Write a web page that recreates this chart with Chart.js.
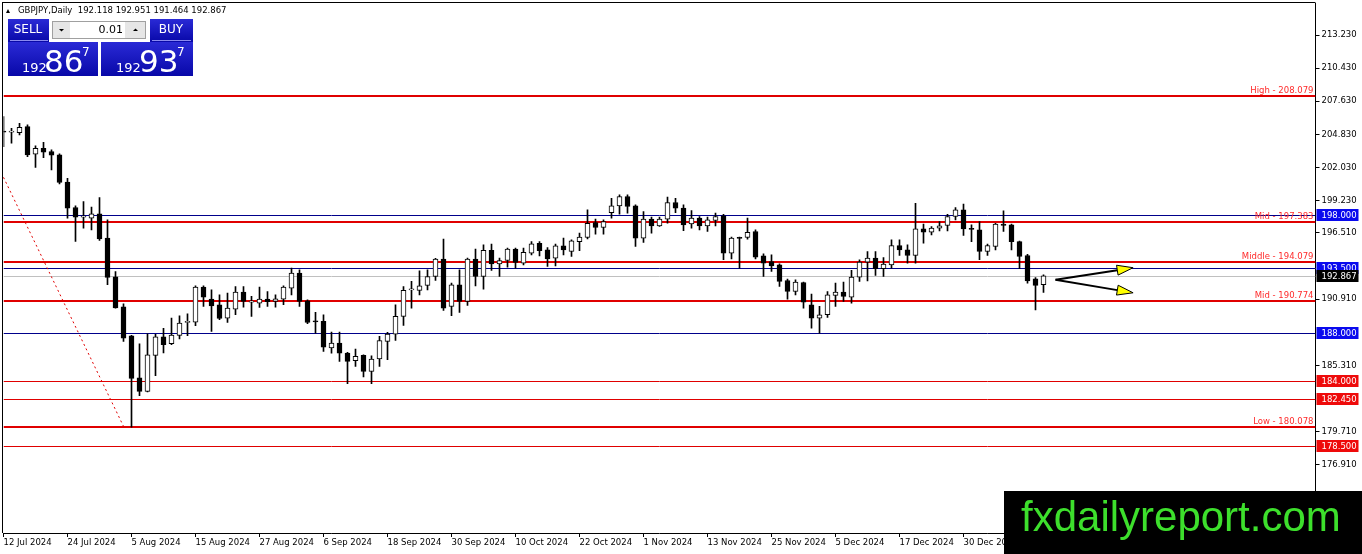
<!DOCTYPE html>
<html>
<head>
<meta charset="utf-8">
<title>GBPJPY Daily</title>
<script src="https://cdn.jsdelivr.net/npm/chart.js@4.4.1/dist/chart.umd.min.js"></script>
<style>
  html, body { margin: 0; padding: 0; background: #fff; }
  #wrap { width: 1362px; height: 554px; }
</style>
</head>
<body>
<div id="wrap"><canvas id="chart" width="1362" height="554"></canvas></div>
<script>
// GBPJPY daily candles, 12 Jul 2024 -> 14 Jan 2025
const opens = [
  205.10, 205.02, 204.98, 205.49, 203.15, 203.66, 203.38, 203.10, 200.79, 198.65,
  197.84, 197.75, 198.11, 196.06, 192.79, 190.25, 187.81, 184.26, 183.11, 186.15,
  187.72, 187.13, 187.84, 188.94, 188.96, 191.92, 190.90, 190.43, 189.30, 190.06,
  191.50, 190.65, 190.57, 190.90, 190.71, 190.90, 191.83, 193.10, 190.76, 189.02,
  189.02, 186.77, 187.19, 186.34, 185.70, 186.15, 184.79, 185.84, 187.33, 187.95,
  189.44, 191.68, 191.64, 192.06, 192.82, 194.28, 190.28, 192.12, 190.71, 194.28,
  192.82, 195.02, 193.89, 194.17, 195.13, 193.95, 194.79, 195.63, 195.07, 194.37,
  195.41, 194.93, 195.77, 196.11, 197.38, 196.96, 198.22, 198.79, 199.58, 198.79,
  196.06, 197.66, 197.10, 197.66, 199.07, 198.59, 197.27, 197.75, 197.10, 197.55,
  197.94, 194.79, 196.08, 196.11, 196.62, 194.56, 194.08, 193.80, 192.48, 191.55,
  192.31, 190.43, 189.30, 189.58, 191.21, 191.49, 191.07, 192.76, 194.03, 194.37,
  193.47, 193.80, 195.44, 195.07, 194.59, 196.84, 196.56, 196.90, 197.13, 197.89,
  198.45, 196.84, 196.76, 194.93, 195.35, 197.24, 197.18, 195.77, 194.59, 192.62,
  192.118
];
const highs = [
  206.33, 205.35, 205.77, 205.63, 203.86, 204.16, 203.52, 203.18, 201.12, 198.79,
  199.15, 198.68, 199.49, 197.61, 193.24, 190.51, 187.85, 187.13, 187.98, 187.92,
  188.43, 189.30, 189.50, 189.66, 192.03, 192.03, 191.69, 191.27, 191.41, 191.97,
  191.97, 191.13, 191.92, 191.55, 191.27, 192.03, 193.52, 193.38, 190.85, 189.78,
  189.58, 188.12, 188.12, 186.40, 186.68, 186.20, 186.12, 187.75, 188.09, 190.43,
  191.97, 192.40, 193.30, 193.38, 194.35, 195.97, 192.26, 193.38, 194.37, 195.13,
  195.49, 195.55, 194.37, 195.21, 195.21, 195.21, 195.77, 195.77, 195.27, 195.55,
  196.06, 195.92, 196.48, 198.45, 197.66, 197.60, 199.43, 199.72, 199.72, 198.87,
  198.31, 197.83, 197.83, 199.52, 199.43, 198.87, 198.39, 197.89, 197.83, 198.17,
  198.08, 196.14, 196.14, 197.75, 196.76, 194.73, 194.65, 193.89, 192.59, 192.54,
  192.35, 191.33, 190.29, 191.55, 192.26, 192.34, 193.33, 194.23, 194.93, 194.93,
  194.42, 195.92, 195.92, 195.49, 199.01, 197.24, 197.04, 197.46, 198.08, 198.65,
  198.93, 197.18, 197.46, 195.55, 197.32, 198.36, 197.24, 195.80, 194.70, 192.73,
  192.951
];
const lows = [
  203.80, 204.08, 204.78, 202.95, 202.03, 202.87, 201.83, 200.65, 197.75, 195.78,
  196.90, 196.76, 195.86, 192.12, 190.14, 187.33, 180.08, 182.74, 183.05, 184.43,
  186.35, 187.05, 187.53, 187.81, 188.65, 190.29, 188.18, 189.16, 188.93, 189.58,
  190.23, 189.44, 190.20, 190.29, 190.23, 190.43, 191.27, 190.29, 188.82, 188.03,
  186.48, 186.34, 185.64, 183.75, 185.22, 184.32, 183.75, 185.22, 185.78, 187.41,
  188.68, 190.14, 191.27, 191.69, 192.48, 189.95, 189.50, 189.78, 190.37, 192.03,
  191.75, 193.33, 192.82, 193.61, 193.52, 193.80, 194.65, 194.56, 193.66, 193.72,
  194.65, 194.51, 195.00, 196.00, 196.39, 196.39, 197.75, 198.08, 198.17, 195.35,
  195.69, 196.48, 197.04, 197.32, 198.22, 196.70, 196.90, 196.76, 196.62, 197.10,
  194.23, 194.31, 193.52, 195.97, 194.31, 192.82, 193.24, 191.97, 190.90, 191.27,
  190.14, 188.45, 188.03, 189.36, 190.29, 190.71, 190.57, 192.40, 192.45, 192.90,
  192.82, 193.52, 194.59, 193.94, 193.94, 195.63, 196.34, 196.67, 196.67, 197.60,
  196.28, 195.77, 194.23, 194.59, 195.07, 196.62, 195.07, 193.47, 192.26, 190.00,
  191.464
];
const closes = [
  205.02, 205.10, 205.43, 203.10, 203.66, 203.32, 203.07, 200.76, 198.59, 197.83,
  197.88, 198.11, 196.00, 192.74, 190.17, 187.61, 184.20, 183.11, 186.20, 187.72,
  187.05, 187.86, 188.88, 188.98, 191.92, 191.07, 190.34, 189.27, 190.14, 191.50,
  190.71, 190.68, 190.90, 190.68, 190.93, 191.92, 193.10, 190.71, 188.93, 188.98,
  186.85, 187.19, 186.34, 185.64, 186.06, 184.79, 185.84, 187.41, 187.95, 189.44,
  191.64, 191.73, 192.03, 192.82, 194.28, 190.14, 192.12, 190.71, 194.28, 192.82,
  195.02, 193.89, 194.17, 195.13, 194.00, 194.85, 195.58, 195.00, 194.31, 195.41,
  195.07, 195.83, 196.14, 197.32, 196.96, 197.46, 198.79, 199.58, 198.73, 196.06,
  197.66, 197.10, 197.66, 199.07, 198.59, 197.18, 197.75, 197.10, 197.60, 197.89,
  194.79, 196.06, 196.04, 196.56, 194.45, 193.95, 193.72, 192.40, 191.55, 192.34,
  190.65, 189.30, 189.58, 191.27, 191.49, 191.13, 192.76, 194.03, 194.37, 193.47,
  193.86, 195.44, 195.07, 194.59, 196.84, 196.56, 196.90, 197.10, 197.89, 198.45,
  196.84, 196.80, 194.93, 195.44, 197.24, 197.13, 195.77, 194.51, 192.45, 192.06,
  192.867
];

// horizontal levels
const zoneNames = ["High", "Mid", "Middle", "Mid", "Low"];
const zoneValues = [208.079, 197.383, 194.079, 190.774, 180.078];
const blueLevels = [198.000, 193.500, 188.000];
const redLevels = [184.000, 182.450, 178.500];
const bidPrice = 192.867;

// price axis labels as MT4 shows them
const yTicks = [213.230, 210.430, 207.630, 204.830, 202.030, 199.230, 196.510, 190.910, 185.310, 179.710, 176.910];
const yMin = 171.135;
const yMax = 215.935;

// red dotted trendline [bar index, price]
const trendFrom = [0, 201.20];
const trendTo = [15, 180.15];

// the two arrows: start and the two tips [bar index, price]
const arrowStart = [131.5, 192.54];
const arrowTips = [[141.2, 193.56], [141.2, 191.44]];

const MONTHS = ["Jan", "Feb", "Mar", "Apr", "May", "Jun", "Jul", "Aug", "Sep", "Oct", "Nov", "Dec"];
const holidays = ["2024-12-25", "2025-01-01"];
const SLOTS = 165; // bars + empty space to the right (chart shift)

const dates = [];
let day = new Date(Date.UTC(2024, 6, 12));
while (dates.length < SLOTS) {
  const wd = day.getUTCDay();
  const iso = day.toISOString().slice(0, 10);
  if (wd !== 0 && wd !== 6 && !holidays.includes(iso)) {
    dates.push(`${day.getUTCDate()} ${MONTHS[day.getUTCMonth()]} ${day.getUTCFullYear()}`);
  }
  day.setUTCDate(day.getUTCDate() + 1);
}

const FONT = '"DejaVu Sans", sans-serif';

const overlay = {
  id: "overlay",
  beforeDatasetsDraw(chart) {
    const { ctx, chartArea: a, scales: { y } } = chart;
    ctx.save();
    ctx.beginPath();
    ctx.rect(a.left, a.top, a.width, a.height);
    ctx.clip();

    const hline = (v, color, w) => {
      const py = Math.round(y.getPixelForValue(v)) + (w % 2 ? 0.5 : 0);
      ctx.strokeStyle = color;
      ctx.lineWidth = w;
      ctx.beginPath();
      ctx.moveTo(a.left, py);
      ctx.lineTo(a.right, py);
      ctx.stroke();
    };
    hline(bidPrice, "#c0c0c0", 1);
    blueLevels.forEach(v => hline(v, "#00008b", 1));
    redLevels.forEach(v => hline(v, "#e00000", 1));
    zoneValues.forEach(v => hline(v, "#e00000", 2));

    ctx.font = `8.5px ${FONT}`;
    ctx.fillStyle = "#ff2a2a";
    ctx.textAlign = "right";
    ctx.textBaseline = "bottom";
    zoneValues.forEach((v, i) => {
      ctx.fillText(`${zoneNames[i]} - ${v.toFixed(3)}`, a.right - 2, Math.round(y.getPixelForValue(v)) - 1);
    });
    ctx.restore();
  },
  afterDraw(chart) {
    const { ctx, chartArea: a, scales: { x, y } } = chart;
    ctx.save();

    // frame (top/left)
    ctx.fillStyle = "#000";
    ctx.fillRect(2, 2, a.right - 2, 1);
    ctx.fillRect(2, 2, 1, a.bottom - 2);

    // arrows
    const drawArrow = (from, to) => {
      const x0 = x.getPixelForValue(from[0]), y0 = y.getPixelForValue(from[1]);
      const x1 = x.getPixelForValue(to[0]), y1 = y.getPixelForValue(to[1]);
      const ang = Math.atan2(y1 - y0, x1 - x0);
      const len = 16, half = 5;
      const bx = x1 - Math.cos(ang) * len, by = y1 - Math.sin(ang) * len;
      ctx.strokeStyle = "#000";
      ctx.lineWidth = 2;
      ctx.beginPath();
      ctx.moveTo(x0, y0);
      ctx.lineTo(bx, by);
      ctx.stroke();
      ctx.beginPath();
      ctx.moveTo(x1, y1);
      ctx.lineTo(bx + Math.sin(ang) * half, by - Math.cos(ang) * half);
      ctx.lineTo(bx - Math.sin(ang) * half, by + Math.cos(ang) * half);
      ctx.closePath();
      ctx.fillStyle = "#ffff00";
      ctx.fill();
      ctx.lineWidth = 1;
      ctx.stroke();
    };
    arrowTips.forEach(t => drawArrow(arrowStart, t));

    // price tags on the right axis
    const tag = (v, bg) => {
      const py = Math.round(y.getPixelForValue(v));
      ctx.fillStyle = bg;
      ctx.fillRect(a.right + 1, py - 6, 42, 12);
      ctx.fillStyle = "#fff";
      ctx.font = `8.5px ${FONT}`;
      ctx.textAlign = "left";
      ctx.textBaseline = "middle";
      ctx.fillText(v.toFixed(3), a.right + 6, py + 0.5);
    };
    blueLevels.forEach(v => tag(v, "#0a0aee"));
    redLevels.forEach(v => tag(v, "#ee0a0a"));
    tag(bidPrice, "#000");

    // header line
    ctx.fillStyle = "#000";
    ctx.beginPath();
    ctx.moveTo(6, 13); ctx.lineTo(10, 13); ctx.lineTo(8, 9); ctx.closePath();
    ctx.fill();
    ctx.font = `8.5px ${FONT}`;
    ctx.textAlign = "left";
    ctx.textBaseline = "middle";
    ctx.fillText(`GBPJPY,Daily  ${opens[130].toFixed(3)} ${highs[130].toFixed(3)} ${lows[130].toFixed(3)} ${closes[130].toFixed(3)}`, 18, 11);

    // one click trading panel
    const blue = (x0, y0, w, h) => {
      const g = ctx.createLinearGradient(0, y0, 0, y0 + h);
      g.addColorStop(0, "#2a2ad6");
      g.addColorStop(1, "#0808a8");
      ctx.fillStyle = g;
      ctx.fillRect(x0, y0, w, h);
    };
    blue(8, 19, 41, 23);
    blue(150, 19, 43, 23);
    blue(8, 42, 90, 34);
    blue(101, 42, 92, 34);
    ctx.fillStyle = "#8a8af0";
    ctx.fillRect(10, 40, 38, 1);
    ctx.fillRect(152, 40, 39, 1);

    ctx.fillStyle = "#e6e6e6";
    ctx.fillRect(52, 21, 18, 18);
    ctx.fillRect(125, 21, 21, 18);
    ctx.fillStyle = "#fff";
    ctx.fillRect(70, 21, 55, 18);
    ctx.strokeStyle = "#a0a0a0";
    ctx.lineWidth = 1;
    ctx.strokeRect(52.5, 21.5, 93, 17);
    ctx.fillStyle = "#000";
    ctx.beginPath(); ctx.moveTo(59, 29); ctx.lineTo(64, 29); ctx.lineTo(61.5, 31.5); ctx.closePath(); ctx.fill();
    ctx.beginPath(); ctx.moveTo(133, 31); ctx.lineTo(138, 31); ctx.lineTo(135.5, 28.5); ctx.closePath(); ctx.fill();
    ctx.font = `11px ${FONT}`;
    ctx.textAlign = "right";
    ctx.fillText("0.01", 123, 30);

    ctx.fillStyle = "#fff";
    ctx.textAlign = "center";
    ctx.font = `12px ${FONT}`;
    ctx.fillText("SELL", 28, 30);
    ctx.fillText("BUY", 171, 30);

    ctx.textAlign = "left";
    ctx.textBaseline = "alphabetic";
    ctx.font = `13px ${FONT}`;
    ctx.fillText("192", 22, 72);
    ctx.fillText("192", 116, 72);
    ctx.font = `31px ${FONT}`;
    ctx.fillText("86", 44, 72);
    ctx.fillText("93", 139, 72);
    ctx.font = `12px ${FONT}`;
    ctx.fillText("7", 82, 56);
    ctx.fillText("7", 177, 56);

    // watermark
    ctx.fillStyle = "#000";
    ctx.fillRect(1004, 491, 358, 63);
    ctx.fillStyle = "#3ddf2c";
    ctx.font = '42px "Liberation Sans", Arial, sans-serif';
    ctx.textAlign = "left";
    ctx.textBaseline = "alphabetic";
    ctx.fillText("fxdailyreport.com", 1021, 531);
    ctx.restore();
  }
};

const bodies = opens.map((o, i) => [o, closes[i]]);
const wicks = lows.map((l, i) => [l, highs[i]]);

new Chart(document.getElementById("chart"), {
  type: "bar",
  data: {
    labels: dates,
    datasets: [
      {
        label: "body",
        data: bodies,
        grouped: false,
        order: 0,
        barThickness: 5,
        minBarLength: 1,
        borderSkipped: false,
        borderWidth: 1,
        borderColor: "#000",
        backgroundColor: ctx => {
          const i = ctx.dataIndex;
          return closes[i] > opens[i] ? "#fff" : "#000";
        }
      },
      {
        label: "wick",
        data: wicks,
        grouped: false,
        order: 1,
        barThickness: 1,
        borderWidth: 0,
        backgroundColor: "#000"
      },
      {
        type: "line",
        label: "trend",
        data: [
          { x: dates[trendFrom[0]], y: trendFrom[1] },
          { x: dates[trendTo[0]], y: trendTo[1] }
        ],
        order: 2,
        borderColor: "#e00000",
        borderWidth: 1,
        borderDash: [2, 3],
        pointRadius: 0,
        fill: false
      }
    ]
  },
  options: {
    responsive: false,
    animation: false,
    devicePixelRatio: 1,
    layout: { padding: { left: 3.5, top: 3, right: 0, bottom: 0 } },
    plugins: { legend: { display: false }, tooltip: { enabled: false } },
    scales: {
      x: {
        type: "category",
        offset: false,
        grid: { offset: false, display: true, drawOnChartArea: false, drawTicks: true, tickLength: 4, color: "#000" },
        border: { display: true, color: "#000" },
        ticks: {
          autoSkip: false,
          maxRotation: 0,
          align: "start",
          padding: 1,
          color: "#000",
          font: { family: FONT, size: 8.5 }
        },
        afterBuildTicks: scale => {
          scale.ticks = scale.ticks.filter(t => t.value % 8 === 0 && t.value <= 128);
        },
        afterFit: scale => {
          scale.height = 21;
          scale.paddingLeft = 0;
          scale.paddingRight = 0;
        }
      },
      y: {
        position: "right",
        min: yMin,
        max: yMax,
        grid: { display: true, drawOnChartArea: false, drawTicks: true, tickLength: 4, color: "#000" },
        border: { display: true, color: "#000" },
        ticks: {
          padding: 2,
          color: "#000",
          font: { family: FONT, size: 8.5 },
          callback: v => v.toFixed(3)
        },
        afterBuildTicks: scale => {
          scale.ticks = yTicks.map(v => ({ value: v }));
        },
        afterFit: scale => {
          scale.width = 46.5;
          scale.paddingTop = 0;
          scale.paddingBottom = 0;
        }
      }
    }
  },
  plugins: [overlay]
});
</script>
</body>
</html>
